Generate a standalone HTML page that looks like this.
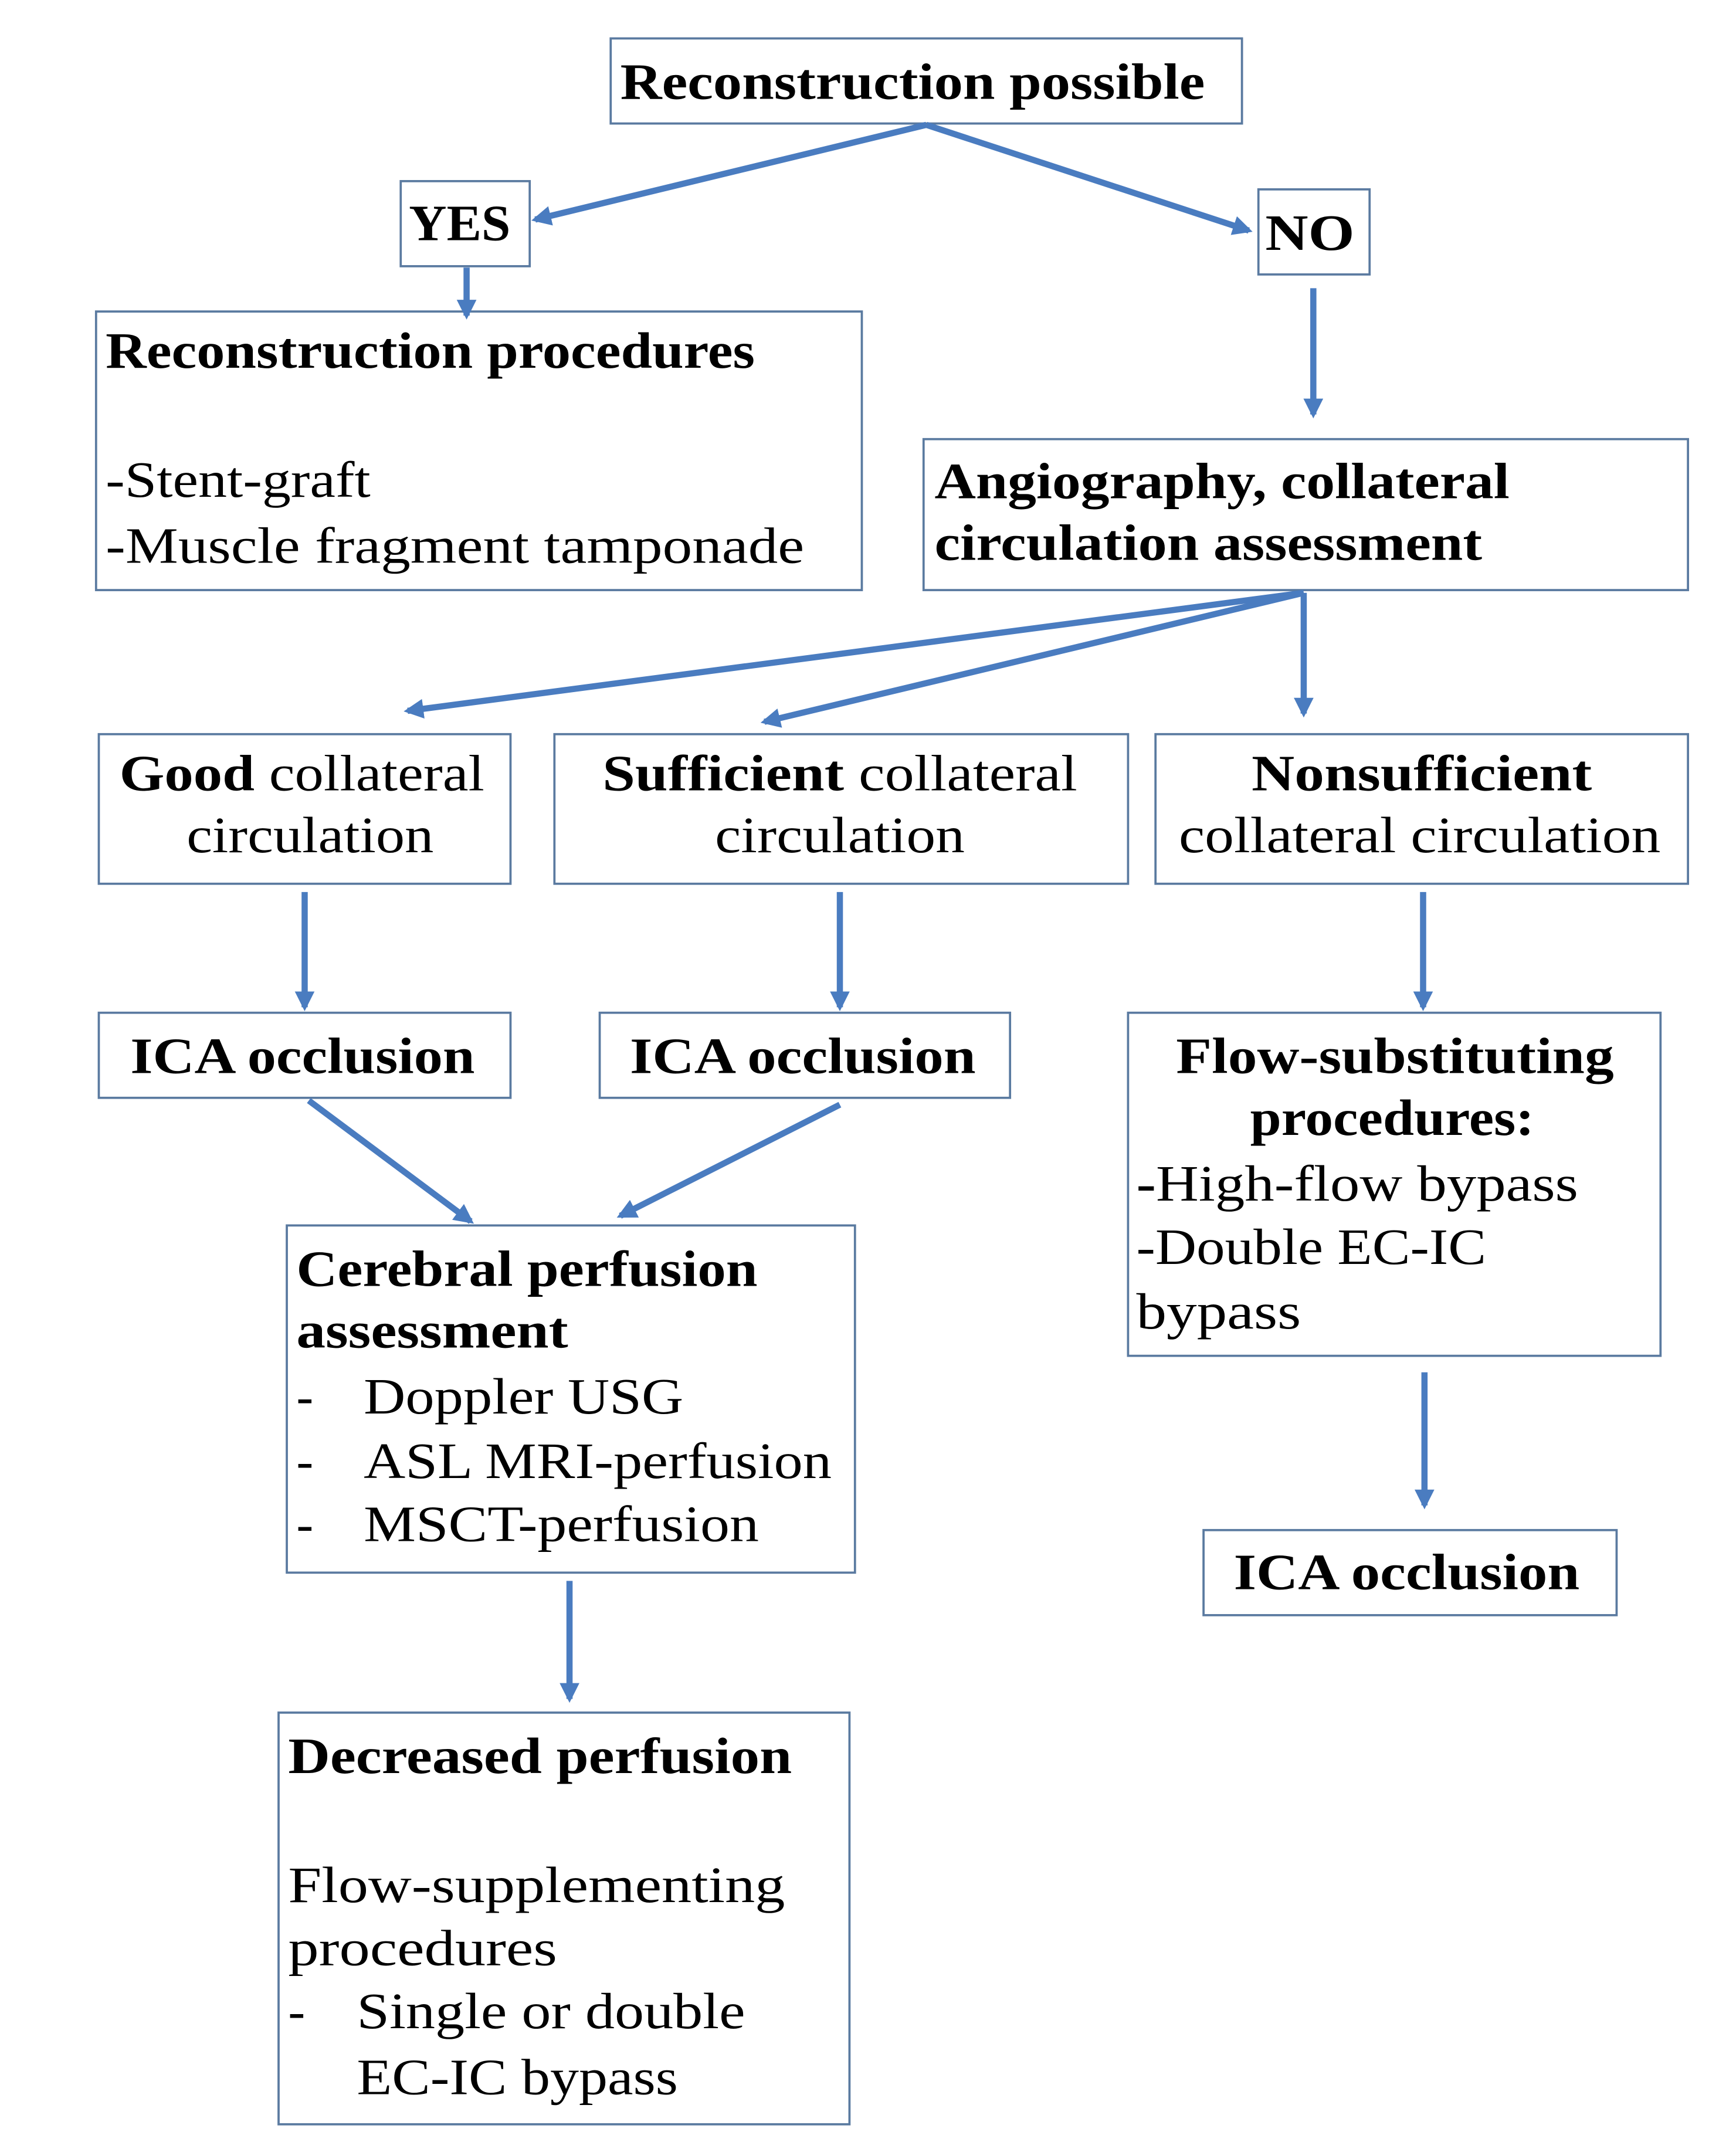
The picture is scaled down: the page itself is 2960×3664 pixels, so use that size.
<!DOCTYPE html>
<html><head><meta charset="utf-8"><style>
html,body{margin:0;padding:0;background:#fff;}
svg{display:block}
text{font-family:"Liberation Serif",serif;font-size:37px;fill:#000;}
.b{font-weight:bold}
rect{fill:#fff;stroke:#5a7aa0;stroke-width:1.6}
line{stroke:#4a7cc0;stroke-width:4.5;marker-end:url(#ah)}
</style></head><body>
<svg width="2960" height="3664" viewBox="0 0 1265 1566" preserveAspectRatio="none" xmlns="http://www.w3.org/2000/svg">
<defs><marker id="ah" viewBox="0 0 10 10" refX="8" refY="5" markerWidth="3.2" markerHeight="3.2" orient="auto" markerUnits="strokeWidth"><path d="M0,0 L10,5 L0,10 z" fill="#4a7cc0"/></marker></defs>

<rect x="445" y="28" width="460" height="62"/>
<text class="b" x="452" y="72" textLength="426" lengthAdjust="spacingAndGlyphs">Reconstruction possible</text>

<rect x="292" y="132" width="94" height="62"/>
<text class="b" x="298" y="175" textLength="74" lengthAdjust="spacingAndGlyphs">YES</text>

<rect x="917" y="138" width="81" height="62"/>
<text class="b" x="922" y="182" textLength="65" lengthAdjust="spacingAndGlyphs">NO</text>

<rect x="70" y="227" width="558" height="203"/>
<text class="b" x="77" y="268" textLength="473" lengthAdjust="spacingAndGlyphs">Reconstruction procedures</text>
<text x="77" y="362" textLength="193" lengthAdjust="spacingAndGlyphs">-Stent-graft</text>
<text x="77" y="410" textLength="509" lengthAdjust="spacingAndGlyphs">-Muscle fragment tamponade</text>

<rect x="673" y="320" width="557" height="110"/>
<text class="b" x="681" y="363" textLength="419" lengthAdjust="spacingAndGlyphs">Angiography, collateral</text>
<text class="b" x="681" y="408" textLength="399" lengthAdjust="spacingAndGlyphs">circulation assessment</text>

<rect x="72" y="535" width="300" height="109"/>
<text x="87" y="576" textLength="266" lengthAdjust="spacingAndGlyphs"><tspan class="b">Good</tspan> collateral</text>
<text x="136" y="621" textLength="180" lengthAdjust="spacingAndGlyphs">circulation</text>

<rect x="404" y="535" width="418" height="109"/>
<text x="439" y="576" textLength="346" lengthAdjust="spacingAndGlyphs"><tspan class="b">Sufficient</tspan> collateral</text>
<text x="521" y="621" textLength="182" lengthAdjust="spacingAndGlyphs">circulation</text>

<rect x="842" y="535" width="388" height="109"/>
<text class="b" x="912" y="576" textLength="248" lengthAdjust="spacingAndGlyphs">Nonsufficient</text>
<text x="859" y="621" textLength="351" lengthAdjust="spacingAndGlyphs">collateral circulation</text>

<rect x="72" y="738" width="300" height="62"/>
<text class="b" x="95" y="782" textLength="251" lengthAdjust="spacingAndGlyphs">ICA occlusion</text>
<rect x="437" y="738" width="299" height="62"/>
<text class="b" x="459" y="782" textLength="252" lengthAdjust="spacingAndGlyphs">ICA occlusion</text>

<rect x="822" y="738" width="388" height="250"/>
<text class="b" x="857" y="782" textLength="319" lengthAdjust="spacingAndGlyphs">Flow-substituting</text>
<text class="b" x="911" y="827" textLength="207" lengthAdjust="spacingAndGlyphs">procedures:</text>
<text x="828" y="875" textLength="322" lengthAdjust="spacingAndGlyphs"><tspan class="b">-</tspan>High-flow bypass</text>
<text x="828" y="921" textLength="255" lengthAdjust="spacingAndGlyphs">-Double EC-IC</text>
<text x="828" y="968" textLength="120" lengthAdjust="spacingAndGlyphs">bypass</text>

<rect x="209" y="893" width="414" height="253"/>
<text class="b" x="216" y="937" textLength="336" lengthAdjust="spacingAndGlyphs">Cerebral perfusion</text>
<text class="b" x="216" y="982" textLength="198" lengthAdjust="spacingAndGlyphs">assessment</text>
<text x="216" y="1030">-</text><text x="265" y="1030" textLength="233" lengthAdjust="spacingAndGlyphs">Doppler USG</text>
<text x="216" y="1077">-</text><text x="265" y="1077" textLength="341" lengthAdjust="spacingAndGlyphs">ASL MRI-perfusion</text>
<text x="216" y="1123">-</text><text x="265" y="1123" textLength="288" lengthAdjust="spacingAndGlyphs">MSCT-perfusion</text>

<rect x="877" y="1115" width="301" height="62"/>
<text class="b" x="899" y="1158" textLength="252" lengthAdjust="spacingAndGlyphs">ICA occlusion</text>

<rect x="203" y="1248" width="416" height="300"/>
<text class="b" x="210" y="1292" textLength="367" lengthAdjust="spacingAndGlyphs">Decreased perfusion</text>
<text x="210" y="1386" textLength="362" lengthAdjust="spacingAndGlyphs">Flow-supplementing</text>
<text x="210" y="1432" textLength="196" lengthAdjust="spacingAndGlyphs">procedures</text>
<text x="210" y="1478">-</text><text x="260" y="1478" textLength="283" lengthAdjust="spacingAndGlyphs">Single or double</text>
<text x="260" y="1526" textLength="234" lengthAdjust="spacingAndGlyphs">EC-IC bypass</text>

<line x1="675" y1="91" x2="390" y2="160"/>
<line x1="675" y1="91" x2="910" y2="168"/>
<line x1="340" y1="195" x2="340" y2="230"/>
<line x1="957" y1="210" x2="957" y2="302"/>
<line x1="950" y1="432" x2="297" y2="518"/>
<line x1="950" y1="432" x2="557" y2="526"/>
<line x1="950" y1="432" x2="950" y2="520"/>
<line x1="222" y1="650" x2="222" y2="734"/>
<line x1="612" y1="650" x2="612" y2="734"/>
<line x1="1037" y1="650" x2="1037" y2="734"/>
<line x1="225" y1="802" x2="343" y2="890"/>
<line x1="612" y1="805" x2="452" y2="886"/>
<line x1="415" y1="1152" x2="415" y2="1238"/>
<line x1="1038" y1="1000" x2="1038" y2="1097"/>
</svg>
</body></html>
